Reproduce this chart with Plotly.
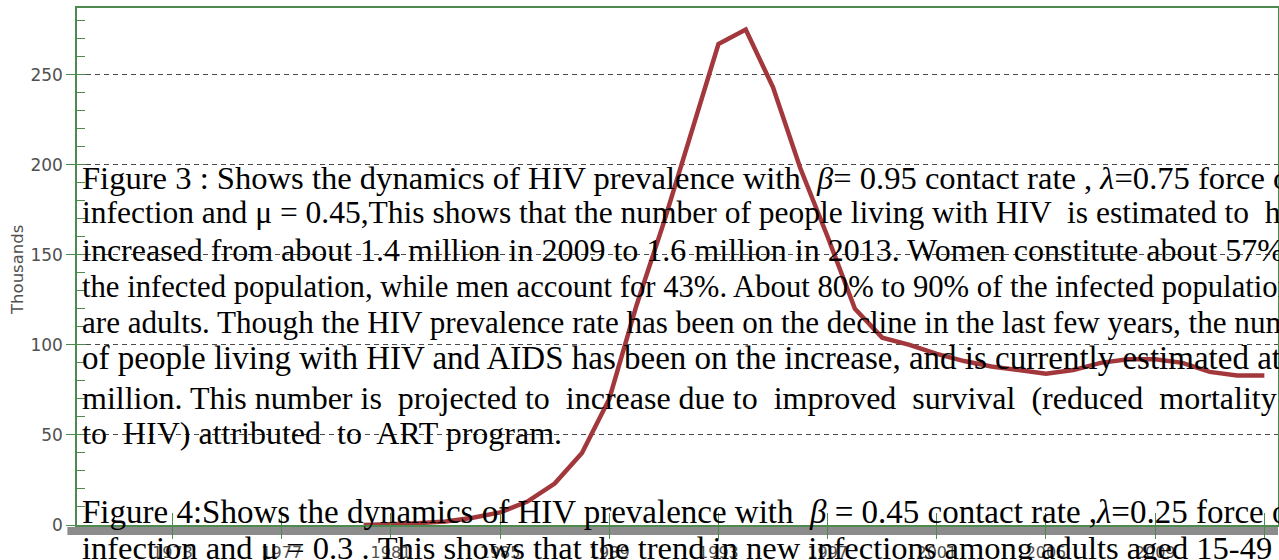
import plotly.graph_objects as go

# ---- data ----
years = list(range(1980, 2014))
values = [0, 0.3, 1, 2, 4, 7, 13, 23, 40, 70, 122, 168, 218, 267, 275, 243, 198, 160,
          120, 104, 100, 95, 91, 88, 86, 84, 86, 90, 92, 92, 90, 85, 83, 83]
x_tick_years = list(range(1973, 2014, 4))
y_ticks = [0, 50, 100, 150, 200, 250]
y_title = "Thousands"

# overlaid scanned-document text lines
text_lines = [
    "Figure 3 : Shows the dynamics of HIV prevalence with  <i>β</i>= 0.95 contact rate , <i>λ</i>=0.75 force of",
    "infection and μ = 0.45,This shows that the number of people living with HIV  is estimated to  have",
    "increased from about 1.4 million in 2009 to 1.6 million in 2013. Women constitute about 57% of",
    "the infected population, while men account for 43%. About 80% to 90% of the infected population",
    "are adults. Though the HIV prevalence rate has been on the decline in the last few years, the number",
    "of people living with HIV and AIDS has been on the increase, and is currently estimated at 1.6",
    "million. This number is  projected to  increase due to  improved  survival  (reduced  mortality due",
    "to  HIV) attributed  to  ART program.",
    "Figure 4:Shows the dynamics of HIV prevalence with  <i>β</i> = 0.45 contact rate ,<i>λ</i>=0.25 force of",
    "infection and μ = 0.3 . This shows that the trend in new infections among adults aged 15-49",
]
# layout of the text lines (pixel row of each line centre, font size per justified line)
text_rows = [178, 213, 250, 287, 322, 358, 398, 433, 512, 548]
text_sizes = [32.6, 31.5, 32, 30.7, 31.1, 33, 32, 32, 33, 32.5]

W, H = 1279, 560
ML, MR, MT, MB = 77, 1, 8, 35
plot_w = W - ML - MR
plot_h = H - MT - MB

green = "#4d8a4d"
gray_txt = "#505050"

fig = go.Figure()
fig.add_trace(go.Scatter(x=years, y=values, mode="lines",
                         line=dict(color="#a2383c", width=4.5),
                         showlegend=False, hoverinfo="skip"))
# invisible trace to host the overlay axes (crossing tick marks)
fig.add_trace(go.Scatter(x=[years[0]], y=[values[0]], xaxis="x2", yaxis="y2",
                         mode="markers", marker=dict(opacity=0),
                         showlegend=False, hoverinfo="skip"))

xr = [1969.5, 2013.5]
yr = [0, 287]

fig.update_layout(
    width=W, height=H,
    margin=dict(l=ML, r=MR, t=MT, b=MB),
    paper_bgcolor="white", plot_bgcolor="white",
    xaxis=dict(range=xr, tickvals=x_tick_years, ticks="outside", ticklen=12,
               tickcolor=green, tickwidth=1, showline=True, linecolor=green,
               linewidth=1.5, mirror=True, showgrid=False, zeroline=False,
               automargin=False,
               tickfont=dict(family="DejaVu Sans", size=16, color=gray_txt)),
    xaxis2=dict(range=xr, overlaying="x", tickvals=x_tick_years, ticks="inside",
                ticklen=12, tickcolor=green, showticklabels=False, showgrid=False,
                zeroline=False, showline=False, anchor="y", automargin=False),
    yaxis=dict(range=yr, tickvals=y_ticks, ticks="outside", ticklen=9,
               tickcolor=green, showline=True, linecolor=green, linewidth=1.5,
               mirror=True, showgrid=True, gridcolor="#4a4a4a", griddash="5px,4px",
               gridwidth=1, zeroline=False, automargin=False,
               minor=dict(ticks="inside", dtick=10, ticklen=8, tickcolor=green,
                          showgrid=False),
               tickfont=dict(family="DejaVu Sans", size=17, color=gray_txt)),
    yaxis2=dict(range=yr, overlaying="y", tickvals=y_ticks, ticks="inside",
                ticklen=9, tickcolor=green, showticklabels=False, showgrid=False,
                zeroline=False, showline=False, anchor="x", automargin=False),
    shapes=[dict(type="rect", xref="paper", yref="paper", x0=-0.008, x1=1.0,
                 y0=-2 / plot_h, y1=-10 / plot_h, fillcolor="#8c8c8c",
                 line=dict(width=0), layer="below")],
)

# y-axis title
fig.add_annotation(text=y_title, xref="paper", yref="paper",
                   x=(17 - ML) / plot_w, y=(H - MB - 270) / plot_h,
                   textangle=-90, showarrow=False, xanchor="center", yanchor="middle",
                   font=dict(family="DejaVu Sans", size=16.5, color=gray_txt))

for txt, row, sz in zip(text_lines, text_rows, text_sizes):
    fig.add_annotation(text=txt, xref="paper", yref="paper",
                       x=3 / plot_w, y=(H - MB - row) / plot_h,
                       xanchor="left", yanchor="middle", showarrow=False,
                       font=dict(family="Liberation Serif", size=sz, color="black"))

fig.write_html("out.html",
               config={"displayModeBar": False},
               post_script="document.body.style.margin='0px';"
                           "document.body.style.overflow='hidden';")
